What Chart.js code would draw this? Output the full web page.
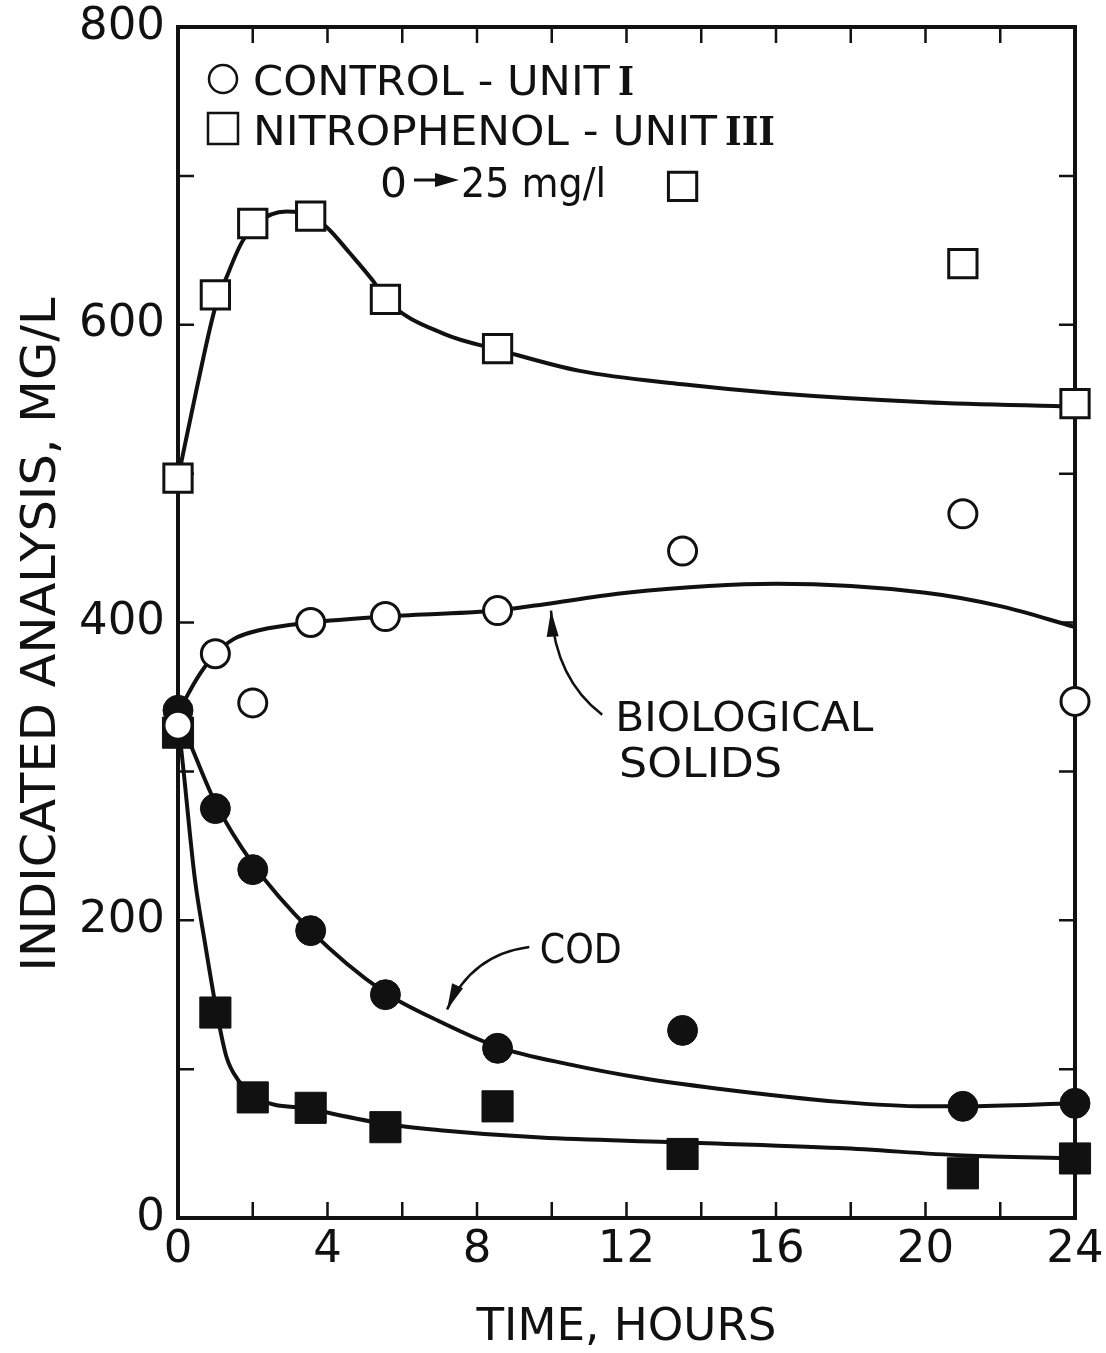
<!DOCTYPE html>
<html>
<head>
<meta charset="utf-8">
<script src="https://cdn.jsdelivr.net/npm/chart.js@4.4.1/dist/chart.umd.min.js"></script>
<style>
  html, body { margin: 0; padding: 0; background: #fff; }
  #wrap { width: 1106px; height: 1353px; }
</style>
</head>
<body>
<div id="wrap"><canvas id="chart" width="1106" height="1353"></canvas></div>
<script>
// sampling times, hours
const hours = [0, 1, 2, 3.55, 5.55, 8.55, 13.5, 21, 24]

// measured values, mg/l (open = biological solids, filled = COD)
const controlSolids = [331, 379, 346, 400, 404, 408, 448, 473, 347]
const nitroSolids = [497, 620, 668, 673, 617, 584, 693, 641, 547]
const controlCod = [341, 275, 234, 193, 150, 114, 126, 75, 77]
const nitroCod = [326, 138, 81, 74, 61, 75, 43, 30, 40]

// hand drawn curves
const nitroSolidsFitX = [0, 0.5, 1, 1.3, 1.7, 2.1, 2.9, 3.5, 4.0, 4.6, 5.2, 5.6, 7.1, 8.6, 10.75, 13.5, 16, 20, 24]
const nitroSolidsFitY = [497, 557, 612, 632, 655, 668, 676, 674, 665, 648, 630, 616, 594, 583, 569, 560, 554, 548, 545]
const controlSolidsFitX = [0, 0.23, 0.6, 1, 1.5, 2.2, 3.55, 5.5, 8.5, 10, 12, 16, 20, 22, 24]
const controlSolidsFitY = [338, 350, 366, 379, 389, 395, 400, 404, 408, 413, 420, 426, 420, 411, 397]
const controlCodFitX = [0, 0.4, 1, 2, 3.55, 5.5, 7, 8.55, 10.5, 12.4, 14.4, 17.7, 20, 21, 24]
const controlCodFitY = [338, 314, 279, 238, 193, 152, 132, 115, 103, 94, 87, 78, 75, 75, 77]
const nitroCodFitX = [0, 0.15, 0.45, 0.72, 1.04, 1.3, 1.6, 2.08, 3.58, 5.6, 7, 9.7, 13.1, 17.7, 21, 24]
const nitroCodFitY = [335, 300, 228, 185, 138, 108, 93, 81, 73, 63, 59, 54, 51, 47, 42, 40]

const xTickLabels = ['0', '4', '8', '12', '16', '20', '24']
const yTickLabels = ['0', '200', '400', '600', '800']

const ink = '#111'
const sans = '"DejaVu Sans", sans-serif'
const serif = '"DejaVu Serif", serif'

const pairs = (xs, ys) => xs.map((x, i) => ({ x, y: ys[i] }))

function curve(xs, ys) {
  return {
    data: pairs(xs, ys),
    showLine: true,
    borderColor: ink,
    borderWidth: 4,
    pointRadius: 0,
    cubicInterpolationMode: 'monotone',
    clip: false,
    order: 3,
  }
}

function markers(values, style, filled, radius) {
  return {
    data: pairs(hours, values),
    showLine: false,
    pointStyle: style,
    pointRadius: radius,
    pointBackgroundColor: filled ? ink : '#fff',
    pointBorderColor: ink,
    pointBorderWidth: filled ? 1 : 3,
    clip: false,
    order: filled ? 2 : 1,
  }
}

// text squeezed or stretched to a given width
function fitText(ctx, text, x, y, width, font) {
  ctx.save()
  ctx.font = font
  const w = ctx.measureText(text).width
  ctx.translate(x, y)
  ctx.scale(width / w, 1)
  ctx.textAlign = 'left'
  ctx.textBaseline = 'alphabetic'
  ctx.fillText(text, 0, 0)
  ctx.restore()
}

function arrowHead(ctx, fromX, fromY, tipX, tipY, len, half) {
  const a = Math.atan2(tipY - fromY, tipX - fromX)
  ctx.beginPath()
  ctx.moveTo(tipX, tipY)
  ctx.lineTo(tipX - len * Math.cos(a) + half * Math.sin(a), tipY - len * Math.sin(a) - half * Math.cos(a))
  ctx.lineTo(tipX - len * Math.cos(a) - half * Math.sin(a), tipY - len * Math.sin(a) + half * Math.cos(a))
  ctx.closePath()
  ctx.fill()
}

const framePlugin = {
  id: 'frame',
  beforeDatasetsDraw(chart) {
    const { ctx, chartArea: a, scales } = chart
    ctx.save()
    ctx.strokeStyle = ink
    ctx.lineWidth = 2.5
    const tick = 16
    scales.x.ticks.forEach((t) => {
      const px = scales.x.getPixelForValue(t.value)
      if (t.value <= 0 || t.value >= 24) return
      ctx.beginPath()
      ctx.moveTo(px, a.bottom)
      ctx.lineTo(px, a.bottom - tick)
      ctx.moveTo(px, a.top)
      ctx.lineTo(px, a.top + tick)
      ctx.stroke()
    })
    scales.y.ticks.forEach((t) => {
      const py = scales.y.getPixelForValue(t.value)
      if (t.value <= 0 || t.value >= 800) return
      ctx.beginPath()
      ctx.moveTo(a.left, py)
      ctx.lineTo(a.left + tick, py)
      ctx.moveTo(a.right, py)
      ctx.lineTo(a.right - tick, py)
      ctx.stroke()
    })
    ctx.lineWidth = 4
    ctx.strokeRect(a.left, a.top, a.right - a.left, a.bottom - a.top)
    ctx.restore()
  },
}

const notesPlugin = {
  id: 'notes',
  afterDraw(chart) {
    const { ctx, chartArea: a, scales } = chart
    const px = (h) => scales.x.getPixelForValue(h)
    const py = (v) => scales.y.getPixelForValue(v)
    ctx.save()
    ctx.fillStyle = ink
    ctx.strokeStyle = ink

    // legend
    const L = a.left
    const T = a.top
    ctx.lineWidth = 2.5
    ctx.beginPath()
    ctx.arc(L + 45, T + 52, 14, 0, Math.PI * 2)
    ctx.stroke()
    ctx.strokeRect(L + 30, T + 86, 30, 31)
    fitText(ctx, 'CONTROL - UNIT', L + 75, T + 68, 357, `41px ${sans}`)
    fitText(ctx, 'I', L + 440, T + 68, 16, `bold 40px ${serif}`)
    fitText(ctx, 'NITROPHENOL - UNIT', L + 75, T + 118, 464, `41px ${sans}`)
    fitText(ctx, 'III', L + 547, T + 118, 50, `bold 40px ${serif}`)
    fitText(ctx, '0', L + 202, T + 170, 27, `41px ${sans}`)
    ctx.lineWidth = 3
    ctx.beginPath()
    ctx.moveTo(L + 236, T + 153)
    ctx.lineTo(L + 262, T + 153)
    ctx.stroke()
    arrowHead(ctx, L + 236, T + 153, L + 281, T + 153, 24, 7)
    fitText(ctx, '25 mg/l', L + 283, T + 170, 145, `41px ${sans}`)

    // curve labels and arrows
    fitText(ctx, 'BIOLOGICAL', px(11.7), py(327), 258, `40px ${sans}`)
    fitText(ctx, 'SOLIDS', px(11.8), py(296), 163, `40px ${sans}`)
    fitText(ctx, 'COD', px(9.68), py(171), 82, `40px ${sans}`)

    ctx.lineWidth = 2.5
    const bio = { tail: [11.35, 338], ctrl: [10.1, 362], tip: [9.98, 408] }
    const cod = { tail: [9.4, 182], ctrl: [7.85, 177], tip: [7.2, 140] }
    ;[bio, cod].forEach((arr) => {
      const [tx, ty] = [px(arr.tail[0]), py(arr.tail[1])]
      const [cx, cy] = [px(arr.ctrl[0]), py(arr.ctrl[1])]
      const [ex, ey] = [px(arr.tip[0]), py(arr.tip[1])]
      ctx.beginPath()
      ctx.moveTo(tx, ty)
      ctx.quadraticCurveTo(cx, cy, ex, ey)
      ctx.stroke()
      arrowHead(ctx, cx, cy, ex, ey, 26, 6)
    })

    // axis titles
    fitText(ctx, 'TIME, HOURS', (a.left + a.right) / 2 - 150, 1340, 300, `44px ${sans}`)
    ctx.save()
    ctx.translate(55, (a.top + a.bottom) / 2 + 12)
    ctx.rotate(-Math.PI / 2)
    fitText(ctx, 'INDICATED ANALYSIS, MG/L', -337, 0, 674, `48px ${sans}`)
    ctx.restore()

    ctx.restore()
  },
}

new Chart(document.getElementById('chart'), {
  type: 'scatter',
  data: {
    datasets: [
      curve(nitroSolidsFitX, nitroSolidsFitY),
      curve(controlSolidsFitX, controlSolidsFitY),
      curve(controlCodFitX, controlCodFitY),
      curve(nitroCodFitX, nitroCodFitY),
      markers(controlCod, 'circle', true, 15),
      markers(nitroCod, 'rect', true, 22),
      markers(nitroSolids, 'rect', false, 20),
      markers(controlSolids, 'circle', false, 14),
    ],
  },
  options: {
    responsive: false,
    animation: false,
    layout: { padding: { top: 27, right: 31, left: 0, bottom: 0 } },
    plugins: {
      legend: { display: false },
      tooltip: { enabled: false },
    },
    scales: {
      x: {
        type: 'linear',
        min: 0,
        max: 24,
        grid: { display: false, drawTicks: false },
        border: { display: false },
        afterFit: (scale) => { scale.height = 135 },
        ticks: {
          stepSize: 2,
          autoSkip: false,
          maxRotation: 0,
          padding: 1,
          color: ink,
          font: { family: sans, size: 45, lineHeight: 1.4 },
          callback: (v) => (xTickLabels.includes(String(v)) ? String(v) : ''),
        },
      },
      y: {
        type: 'linear',
        min: 0,
        max: 800,
        grid: { display: false, drawTicks: false },
        border: { display: false },
        afterFit: (scale) => { scale.width = 178 },
        ticks: {
          stepSize: 100,
          autoSkip: false,
          padding: 13,
          color: ink,
          font: { family: sans, size: 45, lineHeight: 0.5 },
          callback: (v) => (yTickLabels.includes(String(v)) ? String(v) : ''),
        },
      },
    },
  },
  plugins: [framePlugin, notesPlugin],
})
</script>
</body>
</html>
